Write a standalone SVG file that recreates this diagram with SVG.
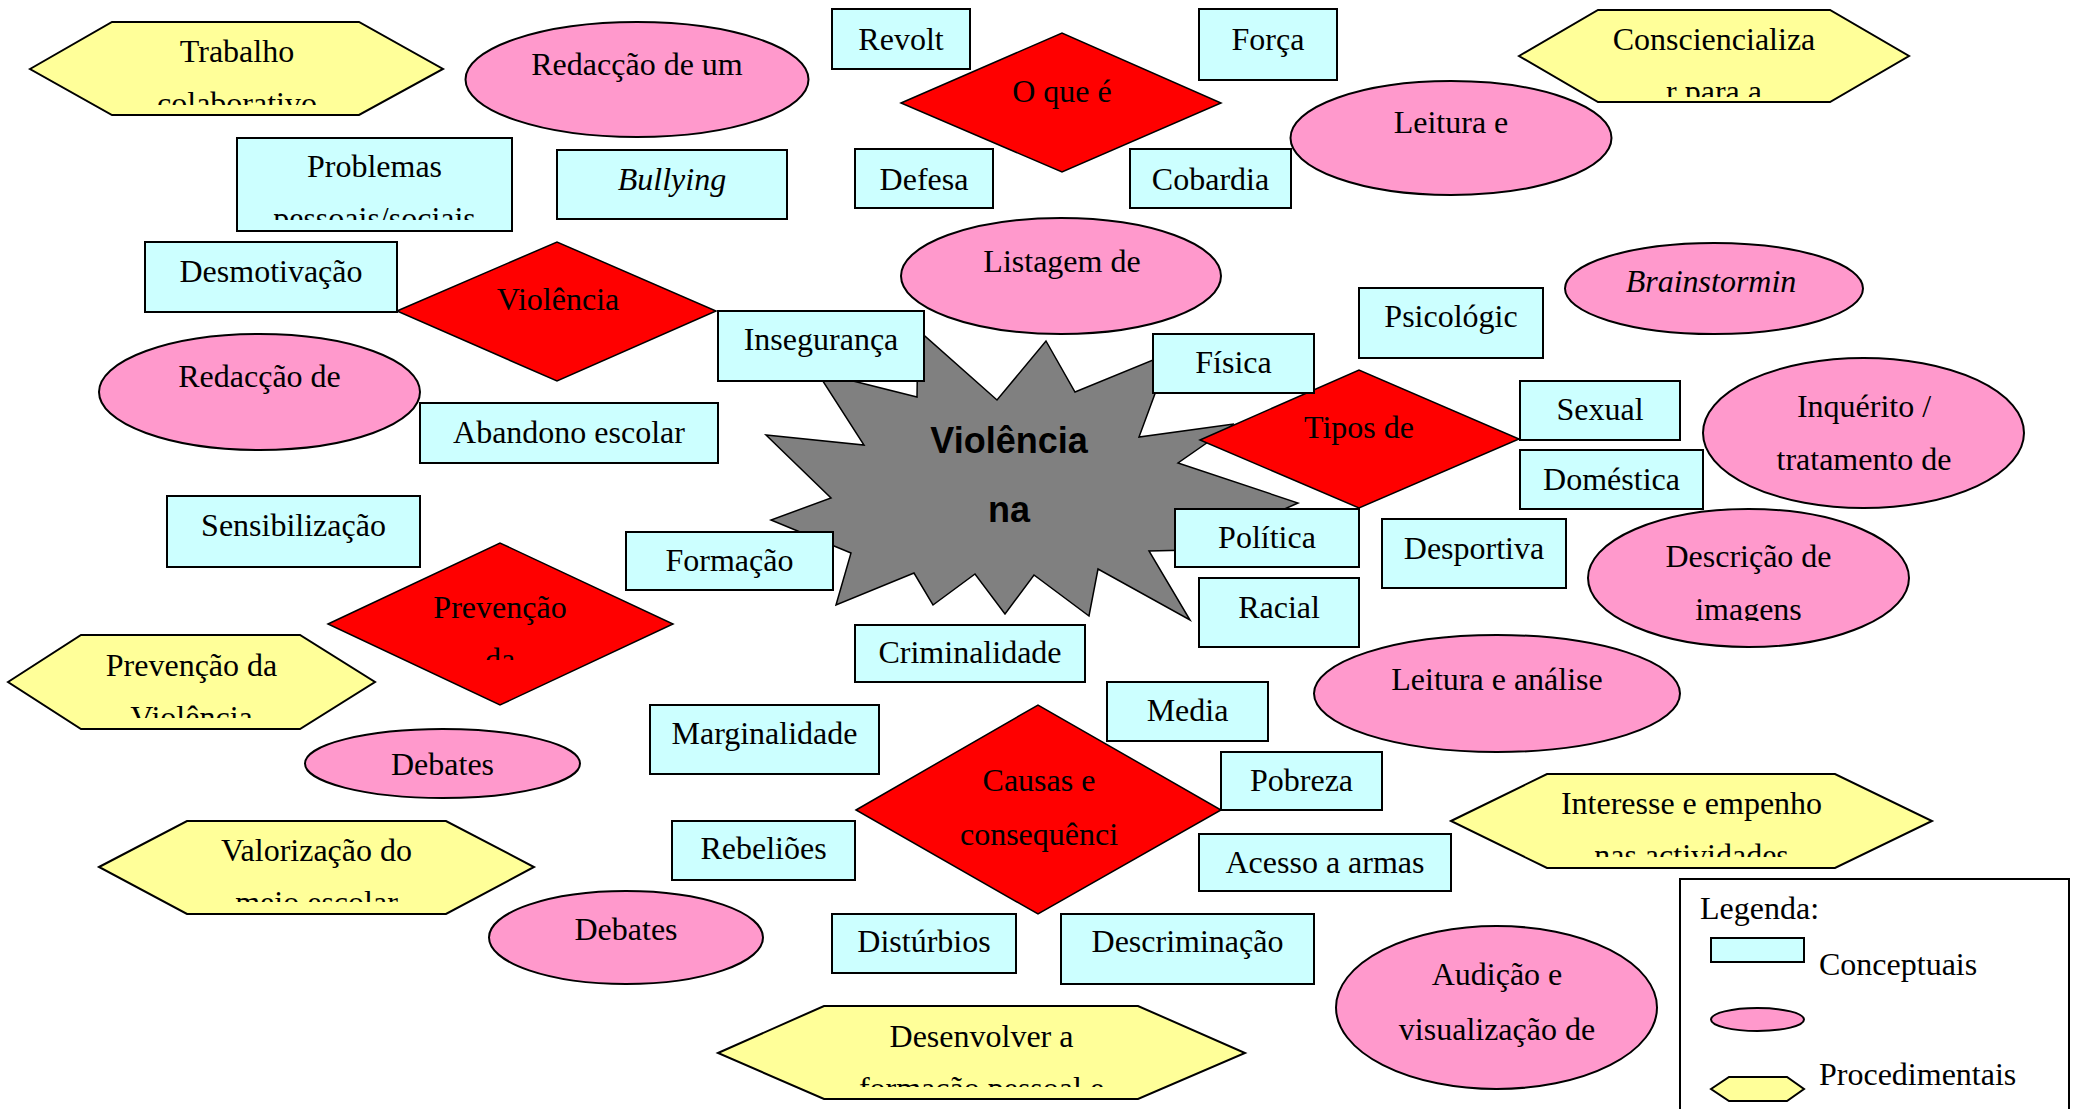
<svg xmlns="http://www.w3.org/2000/svg" width="2078" height="1109" viewBox="0 0 2078 1109">
<style>
.t{font-family:"Liberation Serif","Times New Roman",serif;font-size:32px;fill:#000;text-anchor:middle}
.i{font-style:italic}
.st{text-anchor:start}
.s{font-family:"Liberation Sans",Arial,sans-serif;font-weight:bold;font-size:36px;fill:#000;text-anchor:middle}
.r{fill:#CCFFFF;stroke:#000;stroke-width:2}
.e{fill:#FF99CC;stroke:#000;stroke-width:2}
.h{fill:#FFFF99;stroke:#000;stroke-width:2}
.d{fill:#FF0000;stroke:#000;stroke-width:1.5}
.star{fill:#808080;stroke:#000;stroke-width:1.5}
</style>
<defs>
<clipPath id="cTrab"><rect x="0" y="0" width="2078" height="105"/></clipPath>
<clipPath id="cCons"><rect x="0" y="0" width="2078" height="97"/></clipPath>
<clipPath id="cProb"><rect x="0" y="0" width="2078" height="220"/></clipPath>
<clipPath id="cPrevD"><rect x="0" y="0" width="2078" height="660"/></clipPath>
<clipPath id="cPrevH"><rect x="0" y="0" width="2078" height="718"/></clipPath>
<clipPath id="cValor"><rect x="0" y="0" width="2078" height="902"/></clipPath>
<clipPath id="cInter"><rect x="0" y="0" width="2078" height="857"/></clipPath>
<clipPath id="cDesen"><rect x="0" y="0" width="2078" height="1087"/></clipPath>
<clipPath id="cDesc"><rect x="0" y="0" width="2078" height="621"/></clipPath>
</defs>
<rect width="2078" height="1109" fill="#fff"/>
<g id="connectors"/>
<g id="center-star">
<polygon class="star" points="1046,341 1075,392 1170,353 1139,437 1234,424 1178,463 1298,503 1192,550 1149,551 1190,620 1098,569 1089,616 1034,575 1005,614 975,574 933,605 914,573 836,605 851,553 771,520 831,498 766,435 864,445 817,372 917,397 918,330 997,400"/>
<text class="s" x="1009" y="453">Violência</text>
<text class="s" x="1009" y="522">na</text>
</g>
<g id="d-oque"><polygon class="d" points="901,103 1062,33 1221,103 1062,172"/><text class="t" x="1062" y="102">O que é</text></g>
<g id="d-violencia"><polygon class="d" points="397,311 557,242 716,311 557,381"/><text class="t" x="558" y="310">Violência</text></g>
<g id="d-tipos"><polygon class="d" points="1200,440 1359,370 1519,439 1359,508"/><text class="t" x="1359" y="438">Tipos de</text></g>
<g id="d-prevencao"><polygon class="d" points="328,624 500,543 673,624 500,705"/><text class="t" x="500" y="618">Prevenção</text><text class="t" x="500" y="670" clip-path="url(#cPrevD)">da</text></g>
<g id="d-causas"><polygon class="d" points="856,810 1038,705 1221,810 1038,914"/><text class="t" x="1039" y="791">Causas e</text><text class="t" x="1039" y="845">consequênci</text></g>

<g id="n-revolt"><rect class="r" x="832" y="9" width="138" height="60"/><text class="t" x="901" y="50">Revolt</text></g>
<g id="n-forca"><rect class="r" x="1199" y="9" width="138" height="71"/><text class="t" x="1268" y="50">Força</text></g>
<g id="n-problemas"><rect class="r" x="237" y="138" width="275" height="93"/><text class="t" x="374.5" y="177">Problemas</text><text class="t" x="374.5" y="229" clip-path="url(#cProb)">pessoais/sociais</text></g>
<g id="n-bullying"><rect class="r" x="557" y="150" width="230" height="69"/><text class="t i" x="672" y="190">Bullying</text></g>
<g id="n-defesa"><rect class="r" x="855" y="149" width="138" height="59"/><text class="t" x="924" y="190">Defesa</text></g>
<g id="n-cobardia"><rect class="r" x="1130" y="149" width="161" height="59"/><text class="t" x="1210.5" y="190">Cobardia</text></g>
<g id="n-desmotivacao"><rect class="r" x="145" y="242" width="252" height="70"/><text class="t" x="271" y="282">Desmotivação</text></g>
<g id="n-inseguranca"><rect class="r" x="718" y="311" width="206" height="70"/><text class="t" x="821" y="350">Insegurança</text></g>
<g id="n-psicologic"><rect class="r" x="1359" y="288" width="184" height="70"/><text class="t" x="1451" y="327">Psicológic</text></g>
<g id="n-fisica"><rect class="r" x="1153" y="334" width="161" height="59"/><text class="t" x="1233.5" y="373">Física</text></g>
<g id="n-sexual"><rect class="r" x="1520" y="381" width="160" height="59"/><text class="t" x="1600" y="420">Sexual</text></g>
<g id="n-domestica"><rect class="r" x="1520" y="450" width="183" height="59"/><text class="t" x="1611.5" y="490">Doméstica</text></g>
<g id="n-abandono"><rect class="r" x="420" y="403" width="298" height="60"/><text class="t" x="569" y="443">Abandono escolar</text></g>
<g id="n-sensibilizacao"><rect class="r" x="167" y="496" width="253" height="71"/><text class="t" x="293.5" y="536">Sensibilização</text></g>
<g id="n-formacao"><rect class="r" x="626" y="532" width="207" height="58"/><text class="t" x="729.5" y="571">Formação</text></g>
<g id="n-politica"><rect class="r" x="1175" y="509" width="184" height="58"/><text class="t" x="1267" y="548">Política</text></g>
<g id="n-desportiva"><rect class="r" x="1382" y="519" width="184" height="69"/><text class="t" x="1474" y="559">Desportiva</text></g>
<g id="n-racial"><rect class="r" x="1199" y="578" width="160" height="69"/><text class="t" x="1279" y="618">Racial</text></g>
<g id="n-criminalidade"><rect class="r" x="855" y="625" width="230" height="57"/><text class="t" x="970" y="663">Criminalidade</text></g>
<g id="n-media"><rect class="r" x="1107" y="682" width="161" height="59"/><text class="t" x="1187.5" y="721">Media</text></g>
<g id="n-marginalidade"><rect class="r" x="650" y="705" width="229" height="69"/><text class="t" x="764.5" y="744">Marginalidade</text></g>
<g id="n-pobreza"><rect class="r" x="1221" y="752" width="161" height="58"/><text class="t" x="1301.5" y="791">Pobreza</text></g>
<g id="n-rebelioes"><rect class="r" x="672" y="821" width="183" height="59"/><text class="t" x="763.5" y="859">Rebeliões</text></g>
<g id="n-acesso"><rect class="r" x="1199" y="834" width="252" height="57"/><text class="t" x="1325" y="873">Acesso a armas</text></g>
<g id="n-disturbios"><rect class="r" x="832" y="914" width="184" height="59"/><text class="t" x="924" y="952">Distúrbios</text></g>
<g id="n-descriminacao"><rect class="r" x="1061" y="914" width="253" height="70"/><text class="t" x="1187.5" y="952">Descriminação</text></g>

<g id="e-redaccao-um"><ellipse class="e" cx="637" cy="79.5" rx="171.5" ry="57.5"/><text class="t" x="637" y="75">Redacção de um</text></g>
<g id="e-leitura"><ellipse class="e" cx="1451" cy="138" rx="160.5" ry="57"/><text class="t" x="1451" y="133">Leitura e</text></g>
<g id="e-listagem"><ellipse class="e" cx="1061" cy="276" rx="160" ry="58"/><text class="t" x="1062" y="272">Listagem de</text></g>
<g id="e-brainstorm"><ellipse class="e" cx="1714" cy="288.5" rx="149" ry="45.5"/><text class="t i" x="1711" y="292">Brainstormin</text></g>
<g id="e-redaccao-de"><ellipse class="e" cx="259.5" cy="392" rx="160.5" ry="58"/><text class="t" x="259.5" y="387">Redacção de</text></g>
<g id="e-inquerito"><ellipse class="e" cx="1863.5" cy="433" rx="160.5" ry="75"/><text class="t" x="1864" y="417">Inquérito /</text><text class="t" x="1864" y="470">tratamento de</text></g>
<g id="e-descricao"><ellipse class="e" cx="1748.5" cy="578" rx="160.5" ry="69"/><text class="t" x="1748.5" y="567">Descrição de</text><text class="t" x="1748.5" y="619.5" clip-path="url(#cDesc)">imagens</text></g>
<g id="e-leitura-analise"><ellipse class="e" cx="1497" cy="693.5" rx="183" ry="58.5"/><text class="t" x="1497" y="689.5">Leitura e análise</text></g>
<g id="e-debates1"><ellipse class="e" cx="442.5" cy="763.5" rx="137.5" ry="34.5"/><text class="t" x="442.5" y="775">Debates</text></g>
<g id="e-debates2"><ellipse class="e" cx="626" cy="937.5" rx="137" ry="46.5"/><text class="t" x="626" y="940">Debates</text></g>
<g id="e-audicao"><ellipse class="e" cx="1496.5" cy="1007.5" rx="160.5" ry="81.5"/><text class="t" x="1497" y="985">Audição e</text><text class="t" x="1497" y="1040">visualização de</text></g>

<g id="h-trabalho"><polygon class="h" points="30,69 112,22 359,22 443,69 359,115 112,115"/><text class="t" x="237" y="62">Trabalho</text><text class="t" x="237" y="114" clip-path="url(#cTrab)">colaborativo</text></g>
<g id="h-consc"><polygon class="h" points="1519,56 1598,10 1830,10 1909,56 1830,102 1598,102"/><text class="t" x="1714" y="50">Consciencializa</text><text class="t" x="1714" y="102" clip-path="url(#cCons)">r para a</text></g>
<g id="h-prevencao"><polygon class="h" points="8,682 81,635 300,635 375,682 300,729 81,729"/><text class="t" x="191.5" y="675.5">Prevenção da</text><text class="t" x="191.5" y="727.5" clip-path="url(#cPrevH)">Violência</text></g>
<g id="h-valorizacao"><polygon class="h" points="99,867 187,821 446,821 534,867 446,914 187,914"/><text class="t" x="316.5" y="861">Valorização do</text><text class="t" x="316.5" y="913" clip-path="url(#cValor)">meio escolar</text></g>
<g id="h-interesse"><polygon class="h" points="1451,821 1547,774 1835,774 1932,821 1835,868 1547,868"/><text class="t" x="1691.5" y="814">Interesse e empenho</text><text class="t" x="1691.5" y="866" clip-path="url(#cInter)">nas actividades</text></g>
<g id="h-desenvolver"><polygon class="h" points="718,1053 824,1006 1138,1006 1245,1053 1138,1099 824,1099"/><text class="t" x="981.5" y="1047">Desenvolver a</text><text class="t" x="981.5" y="1099" clip-path="url(#cDesen)">formação pessoal e</text></g>

<g id="legend">
<rect x="1680" y="879" width="389" height="250" fill="#fff" stroke="#000" stroke-width="2"/>
<text class="t st" x="1700" y="919">Legenda:</text>
<rect class="r" x="1711" y="938" width="93" height="24"/>
<text class="t st" x="1819" y="975">Conceptuais</text>
<ellipse class="e" cx="1757.5" cy="1019.5" rx="46.5" ry="11.5"/>
<polygon class="h" points="1711,1089 1729,1077 1787,1077 1804,1089 1787,1101 1729,1101"/>
<text class="t st" x="1819" y="1085">Procedimentais</text>
</g>
</svg>
